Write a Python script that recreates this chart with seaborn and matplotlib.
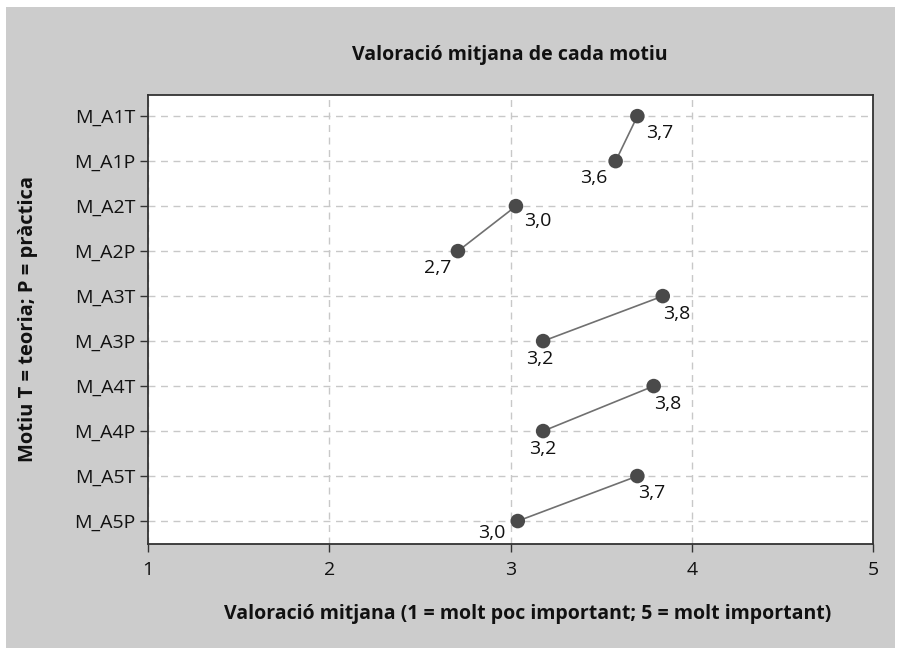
import pandas as pd
import matplotlib.pyplot as plt
import seaborn as sns
from matplotlib.patches import Rectangle

# data
motius = ["M_A1T", "M_A1P", "M_A2T", "M_A2P", "M_A3T",
          "M_A3P", "M_A4T", "M_A4P", "M_A5T", "M_A5P"]
valors = [3.70, 3.58, 3.03, 2.71, 3.84, 3.18, 3.79, 3.18, 3.70, 3.04]
etiquetes = ["3,7", "3,6", "3,0", "2,7", "3,8", "3,2", "3,8", "3,2", "3,7", "3,0"]
parells = ["A1", "A1", "A2", "A2", "A3", "A3", "A4", "A4", "A5", "A5"]

# label offsets (pixels) for each point
offsets = [(22, -17), (-22, -17), (22, -15), (-20, -17), (14, -18),
           (-3, -18), (14, -18), (0, -18), (14, -17), (-26, -12)]

df = pd.DataFrame({"motiu": motius, "valor": valors, "parell": parells, "etiqueta": etiquetes})

sns.set_style("white")
plt.rcParams["font.family"] = ["Open Sans", "DejaVu Sans"]

fig = plt.figure(figsize=(9.01, 6.55), dpi=100, facecolor="white")
fig.patches.append(Rectangle((6 / 901, 7 / 655), 889 / 901, 641 / 655,
                             transform=fig.transFigure, facecolor="#cccccc",
                             edgecolor="none", zorder=-10))
ax = fig.add_axes([148 / 901, 1 - 544 / 655, 725 / 901, 449 / 655])
ax.set_facecolor("white")

sns.scatterplot(data=df, x="valor", y="motiu", ax=ax, s=110, color="#4a4a4a",
                edgecolor="none", zorder=4)
for p, g in df.groupby("parell"):
    ax.plot(g["valor"], g["motiu"], color="#707070", lw=1.2, zorder=3)

for (_, r), off in zip(df.iterrows(), offsets):
    ax.annotate(r["etiqueta"], (r["valor"], r["motiu"]), xytext=off,
                textcoords="offset pixels", ha="center", va="center",
                fontsize=14, color="#111111")

ax.set_xlim(1, 5)
ax.set_ylim(9.51, -0.47)
ax.set_xticks([1, 2, 3, 4, 5])
ax.grid(True, color="#c8c8c8", linestyle=(0, (5, 4)), lw=1)
ax.tick_params(axis="both", direction="out", length=6, width=1, color="#333333",
               labelsize=14, labelcolor="#111111", left=True, bottom=True)
ax.tick_params(axis="x", pad=6)
ax.tick_params(axis="y", pad=3)
for s in ax.spines.values():
    s.set_color("#333333")
    s.set_linewidth(1.3)

ax.set_xlabel("Valoració mitjana (1 = molt poc important; 5 = molt important)",
              fontsize=14, fontweight="bold", color="#111111", labelpad=18)
ax.xaxis.label.set_x(0.524)
ax.set_ylabel("Motiu T = teoria; P = pràctica", fontsize=14.5, fontweight="bold",
              color="#111111", labelpad=26)
fig.text(510 / 901, 1 - 55 / 655, "Valoració mitjana de cada motiu",
         ha="center", va="center", fontsize=14, fontweight="bold", color="#111111")

fig.savefig("out.png", dpi=100, facecolor=fig.get_facecolor())
